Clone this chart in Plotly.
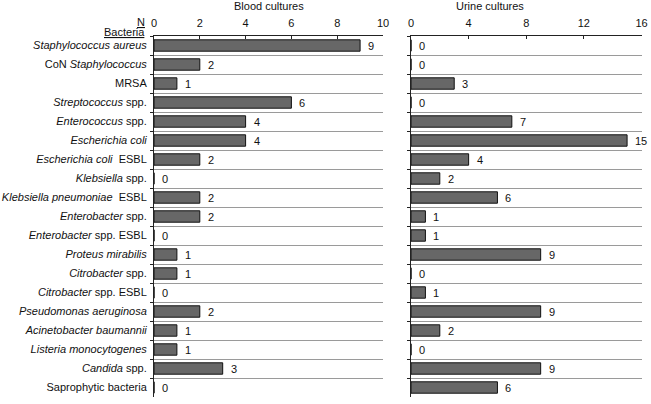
import plotly.graph_objects as go

categories = [
    "<i>Staphylococcus aureus</i>",
    "CoN <i>Staphylococcus</i>",
    "MRSA",
    "<i>Streptococcus</i> spp.",
    "<i>Enterococcus</i> spp.",
    "<i>Escherichia coli</i>",
    "<i>Escherichia coli</i>  ESBL",
    "<i>Klebsiella</i> spp.",
    "<i>Klebsiella pneumoniae</i>  ESBL",
    "<i>Enterobacter</i> spp.",
    "<i>Enterobacter</i> spp. ESBL",
    "<i>Proteus mirabilis</i>",
    "<i>Citrobacter</i> spp.",
    "<i>Citrobacter</i> spp. ESBL",
    "<i>Pseudomonas aeruginosa</i>",
    "<i>Acinetobacter baumannii</i>",
    "<i>Listeria monocytogenes</i>",
    "<i>Candida</i> spp.",
    "Saprophytic bacteria",
]
blood = [9, 2, 1, 6, 4, 4, 2, 0, 2, 2, 0, 1, 1, 0, 2, 1, 1, 3, 0]
urine = [0, 0, 3, 0, 7, 15, 4, 2, 6, 1, 1, 9, 0, 1, 9, 2, 0, 9, 6]
blood_ticks = [0, 2, 4, 6, 8, 10]
urine_ticks = [0, 4, 8, 12, 16]

FONT = "Liberation Sans, Arial, sans-serif"
W, H = 651, 404


def fx(px):
    return px / W


fig = go.Figure()
bar_style = dict(orientation="h", marker=dict(color="#676767", line=dict(color="#111111", width=1)),
                 width=0.6, showlegend=False, hoverinfo="x+y")
fig.add_trace(go.Bar(x=blood, y=categories, xaxis="x", yaxis="y", **bar_style))
fig.add_trace(go.Bar(x=urine, y=categories, xaxis="x2", yaxis="y2", **bar_style))

annotations = []
for c, v in zip(categories, blood):
    annotations.append(dict(x=v, y=c, xref="x", yref="y", text=str(v), showarrow=False,
                            xanchor="left", xshift=6, font=dict(size=11, color="#111")))
for c, v in zip(categories, urine):
    annotations.append(dict(x=v, y=c, xref="x2", yref="y2", text=str(v), showarrow=False,
                            xanchor="left", xshift=6, font=dict(size=11, color="#111")))

d1 = (fx(154), fx(383))
d2 = (fx(411), fx(641.5))
annotations += [
    dict(x=(d1[0] + d1[1]) / 2, y=1, xref="paper", yref="paper", yshift=30, yanchor="middle",
         text="Blood cultures", showarrow=False, font=dict(size=11, color="#111")),
    dict(x=(d2[0] + d2[1]) / 2, y=1, xref="paper", yref="paper", yshift=30, yanchor="middle",
         text="Urine cultures", showarrow=False, font=dict(size=11, color="#111")),
    dict(x=fx(147), y=1, xref="paper", yref="paper", yshift=14, yanchor="middle", xanchor="right",
         text="<u>N</u>", showarrow=False, font=dict(size=11, color="#111")),
    dict(x=fx(147), y=1, xref="paper", yref="paper", yshift=4, yanchor="middle", xanchor="right",
         text="<u>Bacteria</u>", showarrow=False, font=dict(size=11, color="#111")),
]

xcommon = dict(side="top", showline=True, linecolor="#222", linewidth=1, ticks="inside",
               ticklen=3, tickcolor="#222", showgrid=False, zeroline=False, automargin=False,
               ticklabelstandoff=4, tickfont=dict(size=11, color="#111"), fixedrange=True)
ycommon = dict(type="category", autorange="reversed", showline=True, linecolor="#222", linewidth=1,
               ticks="outside", ticklen=3, tickcolor="#222", tickson="boundaries",
               showgrid=True, gridcolor="#9a9a9a", gridwidth=1, fixedrange=True, automargin=False,
               showticklabels=True, ticklabelstandoff=4)

fig.update_layout(
    width=W, height=H,
    margin=dict(l=0, r=0, t=36, b=7),
    paper_bgcolor="white", plot_bgcolor="white",
    font=dict(family=FONT, size=11, color="#111"),
    bargap=0.4,
    xaxis=dict(domain=list(d1), range=[0, 10], tickvals=blood_ticks, anchor="y", **xcommon),
    xaxis2=dict(domain=list(d2), range=[0, 16], tickvals=urine_ticks, anchor="y2", **xcommon),
    yaxis=dict(anchor="x", tickfont=dict(size=11, color="#111"), **ycommon),
    yaxis2=dict(anchor="x2", tickfont=dict(size=11, color="rgba(0,0,0,0)"), **ycommon),
    annotations=annotations,
)

fig.write_html("out.html", config={"displayModeBar": False},
               post_script="document.body.style.margin='0';document.body.style.overflow='hidden';")
